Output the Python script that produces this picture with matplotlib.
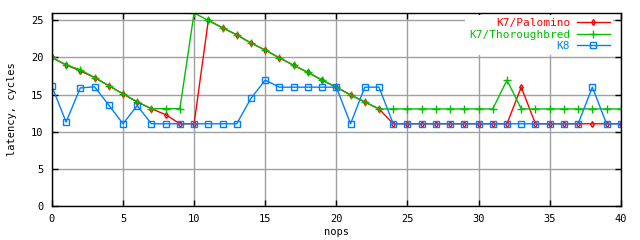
import matplotlib
matplotlib.use("Agg")
import matplotlib.pyplot as plt

nops = list(range(41))

palomino = [20.0, 19.0, 18.2, 17.3, 16.2, 15.1, 14.0, 13.1, 12.3, 11.07,
            11.07, 25.0, 24.0, 23.05, 21.95, 21.0, 19.95, 18.95, 18.0, 16.95,
            16.0, 14.95, 14.0, 13.07, 11.07, 11.07, 11.07, 11.07, 11.07, 11.07,
            11.07, 11.07, 11.07, 16.0, 11.07, 11.07, 11.07, 11.07, 11.07, 11.07,
            11.07]

thoroughbred = [20.0, 19.0, 18.35, 17.3, 16.2, 15.1, 14.05, 13.1, 13.1, 13.1,
                26.0, 25.0, 24.0, 23.05, 21.95, 21.0, 19.95, 18.95, 18.0, 16.95,
                16.0, 14.95, 14.0, 13.07, 13.07, 13.07, 13.07, 13.07, 13.07, 13.07,
                13.07, 13.07, 16.95, 13.07, 13.07, 13.07, 13.07, 13.07, 13.07, 13.07,
                13.07]

k8 = [16.15, 11.3, 15.9, 16.05, 13.6, 11.07, 13.5, 11.07, 11.07, 11.07,
      11.07, 11.07, 11.07, 11.07, 14.5, 16.95, 16.0, 16.0, 16.0, 16.0,
      16.0, 11.07, 16.0, 16.0, 11.07, 11.07, 11.07, 11.07, 11.07, 11.07,
      11.07, 11.07, 11.07, 11.07, 11.07, 11.07, 11.07, 11.07, 16.0, 11.07,
      11.07]

series = [
    ("K7/Palomino", palomino, "#ff0000", "d", 3, "none"),
    ("K7/Thoroughbred", thoroughbred, "#00c000", "+", 6, None),
    ("K8", k8, "#0080ff", "s", 5, "none"),
]

plt.rcParams["font.family"] = "DejaVu Sans Mono"
plt.rcParams["font.size"] = 7.5

fig = plt.figure(figsize=(6.4, 2.4), dpi=100)
ax = fig.add_axes([0.081, 0.142, 0.889, 0.804])

for name, vals, col, mk, ms, fc in series:
    kw = dict(color=col, marker=mk, markersize=ms, linewidth=1, label=name,
              markeredgewidth=1)
    if fc is not None:
        kw["markerfacecolor"] = fc
    ax.plot(nops, vals, **kw)

ax.set_xlim(0, 40)
ax.set_ylim(0, 26)
ax.set_xticks(range(0, 41, 5))
ax.set_yticks(range(0, 26, 5))
ax.grid(True, color="#a0a0a0", linewidth=1)
ax.set_axisbelow(True)
ax.tick_params(direction="in", top=True, right=True, length=4, width=1, pad=6)
for s in ax.spines.values():
    s.set_linewidth(1)
ax.set_xlabel("nops", labelpad=2)
ax.set_ylabel("latency, cycles", labelpad=10)

leg = ax.legend(loc="upper right", bbox_to_anchor=(0.987, 0.99),
                markerfirst=False, frameon=True,
                fancybox=False, edgecolor="none", facecolor="white", framealpha=1,
                handlelength=3.0, handletextpad=0.6, labelspacing=0.14,
                borderpad=0.3, borderaxespad=0.0, fontsize=8)
for t, (_, _, col, _, _, _) in zip(leg.get_texts(), series):
    t.set_color(col)
for t in leg.get_texts():
    t.set_ha("right")

fig.savefig("out.png", dpi=100)
